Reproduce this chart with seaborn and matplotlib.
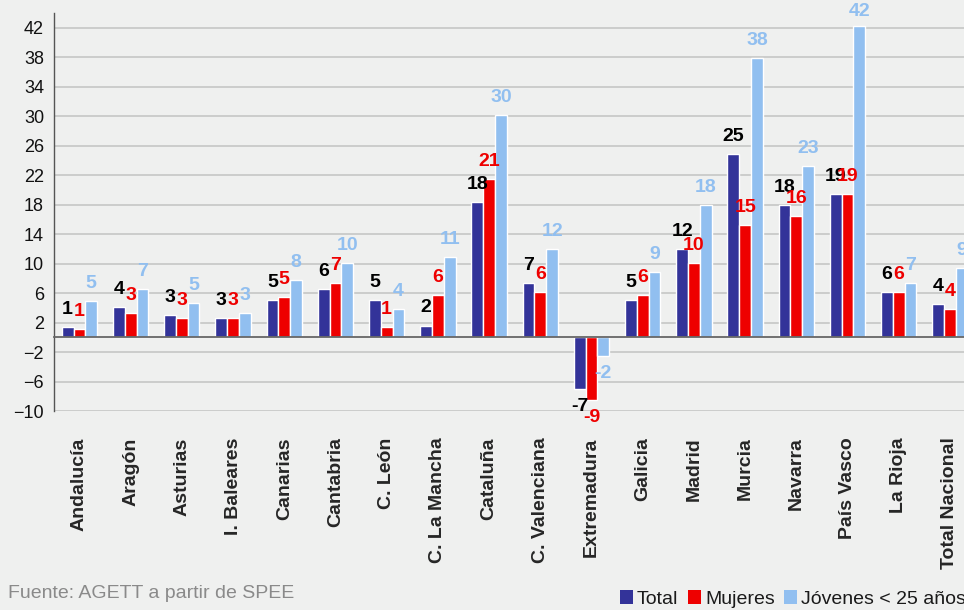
import pandas as pd
import numpy as np
import matplotlib
matplotlib.use('Agg')
import matplotlib.pyplot as plt
import seaborn as sns
from matplotlib.patches import Patch
from matplotlib.ticker import FixedLocator

regiones = ['Andalucía', 'Aragón', 'Asturias', 'I. Baleares', 'Canarias', 'Cantabria',
            'C. León', 'C. La Mancha', 'Cataluña', 'C. Valenciana', 'Extremadura',
            'Galicia', 'Madrid', 'Murcia', 'Navarra', 'País Vasco', 'La Rioja',
            'Total Nacional']
series = ['Total', 'Mujeres', 'Jóvenes < 25 años']

total = [1.45, 4.17, 3.08, 2.67, 5.1, 6.5, 5.0, 1.6, 18.4, 7.3, -7.05, 5.1, 12.0,
         24.9, 17.9, 19.5, 6.2, 4.57]
mujeres = [1.18, 3.35, 2.67, 2.67, 5.5, 7.4, 1.45, 5.8, 21.5, 6.2, -8.55, 5.8, 10.1,
           15.2, 16.5, 19.5, 6.2, 3.9]
jovenes = [4.98, 6.6, 4.7, 3.35, 7.8, 10.1, 3.9, 10.95, 30.2, 12.0, -2.58, 8.9, 18.0,
           37.95, 23.2, 42.3, 7.3, 9.45]

# etiquetas tal como aparecen sobre las barras
et_total = [1, 4, 3, 3, 5, 6, 5, 2, 18, 7, -7, 5, 12, 25, 18, 19, 6, 4]
et_mujeres = [1, 3, 3, 3, 5, 7, 1, 6, 21, 6, -9, 6, 10, 15, 16, 19, 6, 4]
et_jovenes = [5, 7, 5, 3, 8, 10, 4, 11, 30, 12, -2, 9, 18, 38, 23, 42, 7, 9]

colores = ['#333399', '#ee0000', '#91bff0']
col_etiquetas = ['#000000', '#ee0000', '#91bff0']
fondo = '#eff0ef'

df = pd.DataFrame({
    'region': regiones * 3,
    'serie': np.repeat(series, len(regiones)),
    'valor': total + mujeres + jovenes,
})

sns.set_style('white')
plt.rcParams['font.family'] = ['Liberation Sans', 'DejaVu Sans']

fig = plt.figure(figsize=(9.64, 6.10), dpi=100, facecolor=fondo)
ax = fig.add_axes([53.8 / 964, 1 - 411 / 610, 921.8 / 964, 398 / 610])
ax.set_facecolor(fondo)

sns.barplot(data=df, x='region', y='valor', hue='serie', hue_order=series,
            palette=colores, saturation=1, width=0.69, errorbar=None,
            legend=False, ax=ax, zorder=3)

ax.set_ylim(-10, 44)
ax.set_xlim(-0.5, len(regiones) - 0.5)
ax.set_yticks(np.arange(-10, 43, 4))
ax.yaxis.grid(True, color='#c6c6c6', linewidth=1.2, zorder=0)
ax.set_axisbelow(True)

for s in ['top', 'right']:
    ax.spines[s].set_visible(False)
ax.spines['left'].set_color('#555555')
ax.spines['left'].set_linewidth(1.0)
ax.spines['bottom'].set_position(('data', 0))
ax.spines['bottom'].set_color('#666666')
ax.spines['bottom'].set_linewidth(1.3)
ax.spines['bottom'].set_zorder(4)

# marcas entre categorias sobre la linea del cero
ax.xaxis.set_minor_locator(FixedLocator(np.arange(-0.5, len(regiones), 1)))
ax.tick_params(axis='x', which='minor', length=5, width=1, color='#444444', direction='out')
ax.tick_params(axis='x', which='major', length=0, pad=72)
ax.tick_params(axis='y', length=5, width=1, color='#555555', labelsize=13,
               labelcolor='#111111', pad=2)
plt.setp(ax.get_xticklabels(), rotation=90, fontsize=14, fontweight='bold',
         va='top', ha='center')

ax.set_xlabel('')
ax.set_ylabel('')

etiquetas = [et_total, et_mujeres, et_jovenes]
anotaciones = []
for cont, et, c in zip(ax.containers, etiquetas, col_etiquetas):
    anotaciones += ax.bar_label(cont, labels=[str(v) for v in et], padding=6.5, color=c,
                                fontsize=14, fontweight='bold', zorder=5)

# como en excel: las etiquetas no salen por arriba del grafico
fig.canvas.draw()
r = fig.canvas.get_renderer()
alto = fig.bbox.height
for a in anotaciones:
    bb = a.get_window_extent(r)
    if bb.y1 > alto - 3:
        dx, dy = a.xyann
        a.xyann = (dx, dy - (bb.y1 - (alto - 3)) * 72 / fig.dpi)

handles = [Patch(facecolor=c, edgecolor='none') for c in colores]
fig.legend(handles, series, loc='center left', bbox_to_anchor=(620 / 964, 1 - 599 / 610),
           ncol=3, frameon=False, fontsize=14, handlelength=0.68, handleheight=0.68,
           handletextpad=0.2, columnspacing=0.48, borderpad=0, borderaxespad=0,
           labelcolor='#1a1a1a')

fig.text(8 / 964, 1 - 594 / 610, 'Fuente: AGETT a partir de SPEE', color='#8a8a8a',
         fontsize=14, va='center', ha='left')

fig.savefig('out.png', dpi=100, facecolor=fondo)
